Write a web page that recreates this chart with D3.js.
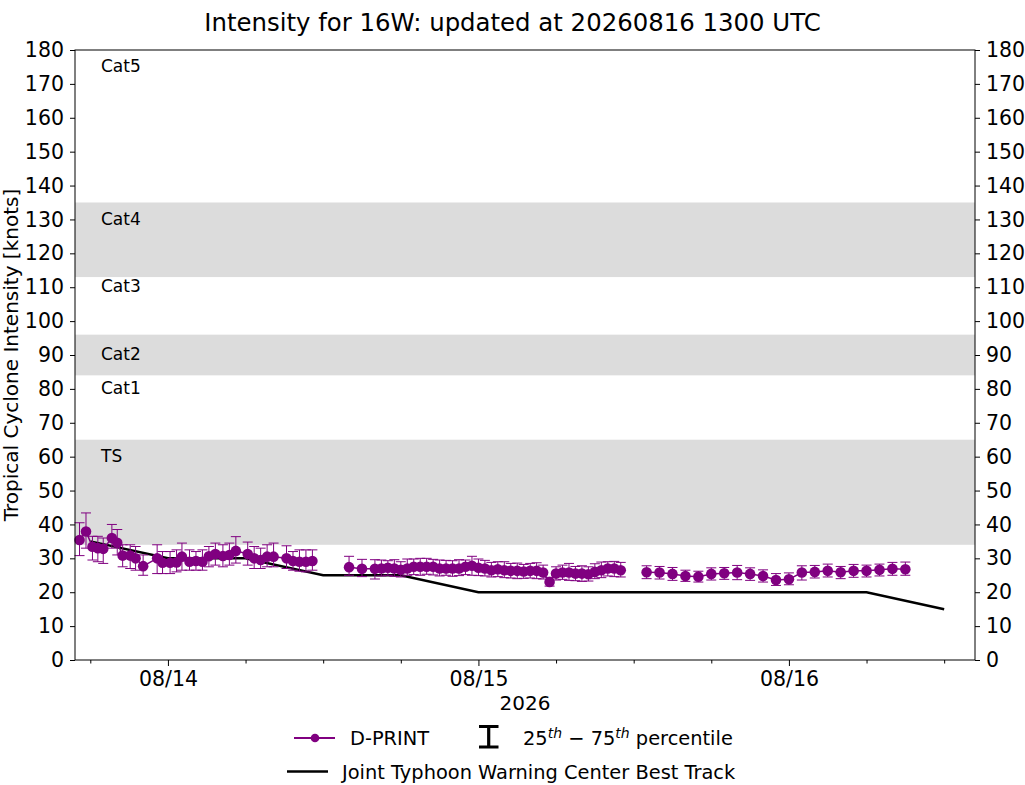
<!DOCTYPE html>
<html>
<head>
<meta charset="utf-8">
<script src="https://cdn.jsdelivr.net/npm/d3@7"></script>
<style>
body { margin: 0; background: #fff; }
text { font-family: "DejaVu Sans", sans-serif; fill: #000; }
</style>
</head>
<body>
<script>
// D-PRINT estimates (median and 25th / 75th percentile), UTC
const dpTime = [
    "2026-08-13 17:10", "2026-08-13 17:40", "2026-08-13 18:10", "2026-08-13 18:35", "2026-08-13 19:00",
    "2026-08-13 19:40", "2026-08-13 20:05", "2026-08-13 20:30", "2026-08-13 21:05", "2026-08-13 21:30",
    "2026-08-13 22:05", "2026-08-13 23:10", "2026-08-13 23:35", "2026-08-14 00:10", "2026-08-14 00:40",
    "2026-08-14 01:05", "2026-08-14 01:40", "2026-08-14 02:10", "2026-08-14 02:40", "2026-08-14 03:10",
    "2026-08-14 03:40", "2026-08-14 04:15", "2026-08-14 04:45", "2026-08-14 05:15", "2026-08-14 06:10",
    "2026-08-14 06:40", "2026-08-14 07:10", "2026-08-14 07:40", "2026-08-14 08:10", "2026-08-14 09:10",
    "2026-08-14 09:40", "2026-08-14 10:10", "2026-08-14 10:40", "2026-08-14 11:10",
    "2026-08-14 14:00", "2026-08-14 15:00", "2026-08-14 16:00", "2026-08-14 16:30", "2026-08-14 17:00",
    "2026-08-14 17:30", "2026-08-14 18:00", "2026-08-14 18:30", "2026-08-14 19:00", "2026-08-14 19:30",
    "2026-08-14 20:00", "2026-08-14 20:30", "2026-08-14 21:00", "2026-08-14 21:30", "2026-08-14 22:00",
    "2026-08-14 22:30", "2026-08-14 23:00", "2026-08-14 23:30", "2026-08-15 00:00", "2026-08-15 00:30",
    "2026-08-15 01:00", "2026-08-15 01:30", "2026-08-15 02:00", "2026-08-15 02:30", "2026-08-15 03:00",
    "2026-08-15 03:30", "2026-08-15 04:00", "2026-08-15 04:30", "2026-08-15 05:00", "2026-08-15 05:30",
    "2026-08-15 06:00", "2026-08-15 06:30", "2026-08-15 07:00", "2026-08-15 07:30", "2026-08-15 08:00",
    "2026-08-15 08:30", "2026-08-15 09:00", "2026-08-15 09:30", "2026-08-15 10:00", "2026-08-15 10:30",
    "2026-08-15 11:00",
    "2026-08-15 13:00", "2026-08-15 14:00", "2026-08-15 15:00", "2026-08-15 16:00", "2026-08-15 17:00",
    "2026-08-15 18:00", "2026-08-15 19:00", "2026-08-15 20:00", "2026-08-15 21:00", "2026-08-15 22:00",
    "2026-08-15 23:00", "2026-08-16 00:00", "2026-08-16 01:00", "2026-08-16 02:00", "2026-08-16 03:00",
    "2026-08-16 04:00", "2026-08-16 05:00", "2026-08-16 06:00", "2026-08-16 07:00", "2026-08-16 08:00",
    "2026-08-16 09:00"
];
const dpMedian = [
    35.4, 37.9, 33.4, 33.0, 32.8, 36.0, 34.6, 30.8, 30.8, 30.0,
    27.7, 30.0, 28.7, 28.7, 28.8, 30.5, 29.0, 29.2, 29.0, 30.6,
    31.3, 30.7, 31.0, 32.2, 31.3, 30.0, 29.5, 30.5, 30.5, 30.0,
    29.2, 29.0, 29.0, 29.2,
    27.4, 26.9, 26.9, 27.0, 27.2, 27.0, 26.6, 27.0, 27.5, 27.5,
    27.5, 27.5, 27.0, 27.0, 27.0, 27.0, 27.5, 27.8, 27.2, 27.0,
    26.5, 26.8, 26.5, 26.3, 26.3, 26.1, 26.3, 26.3, 25.8, 23.0,
    25.5, 25.8, 25.8, 25.5, 25.5, 25.3, 26.0, 26.5, 27.0, 27.0,
    26.5,
    25.9, 25.8, 25.4, 24.8, 24.6, 25.4, 25.6, 25.8, 25.4, 24.8,
    23.6, 23.8, 25.8, 26.0, 26.3, 25.9, 26.3, 26.3, 26.6, 26.9,
    26.8
];
const dpP25 = [
    30.8, 33.0, 29.5, 29.0, 28.5, 33.0, 31.0, 27.5, 27.0, 26.5,
    25.0, 25.5, 25.5, 25.5, 26.0, 26.5, 26.5, 26.5, 26.5, 27.5,
    28.0, 27.5, 28.0, 28.6, 28.0, 27.0, 27.0, 27.5, 27.5, 27.0,
    26.5, 26.2, 26.0, 26.5,
    25.0, 24.6, 23.9, 24.8, 25.0, 24.7, 24.5, 25.0, 25.2, 25.0,
    25.3, 25.1, 24.8, 25.0, 24.7, 24.9, 25.2, 25.0, 24.9, 24.8,
    24.5, 24.6, 24.3, 24.2, 24.0, 24.1, 24.2, 24.0, 23.9, 21.8,
    23.6, 23.8, 23.5, 23.4, 23.2, 23.3, 24.0, 24.3, 24.8, 24.6,
    24.5,
    24.0, 23.9, 23.5, 23.2, 23.0, 23.6, 23.8, 23.7, 23.5, 23.0,
    22.0, 22.2, 23.6, 24.2, 24.5, 24.0, 24.4, 24.5, 24.8, 25.0,
    25.0
];
const dpP75 = [
    40.5, 43.4, 36.5, 36.5, 36.0, 40.0, 38.5, 34.0, 34.0, 33.5,
    31.0, 34.0, 32.0, 32.0, 32.5, 34.5, 32.5, 32.0, 32.5, 33.5,
    34.5, 34.0, 34.5, 36.4, 34.8, 33.5, 33.0, 34.0, 34.5, 33.7,
    32.0, 32.5, 32.5, 32.5,
    30.6, 29.7, 29.6, 29.5, 29.3, 29.6, 29.0, 29.8, 29.8, 30.0,
    30.0, 29.7, 29.5, 29.4, 29.3, 29.6, 29.5, 30.6, 29.8, 29.4,
    28.8, 29.0, 29.0, 28.5, 28.6, 28.2, 28.5, 28.7, 28.0, 24.4,
    27.5, 28.0, 28.5, 27.6, 27.8, 27.5, 28.4, 28.9, 29.0, 29.1,
    28.8,
    27.8, 27.6, 27.3, 26.5, 26.2, 27.2, 27.3, 27.9, 27.2, 26.6,
    25.5, 25.7, 27.8, 27.9, 28.3, 27.6, 28.2, 28.0, 28.3, 28.8,
    28.9
];

// JTWC best track
const btTime = [
    "2026-08-13 18:00", "2026-08-14 00:00", "2026-08-14 06:00", "2026-08-14 12:00",
    "2026-08-14 18:00", "2026-08-15 00:00", "2026-08-15 06:00", "2026-08-15 12:00",
    "2026-08-15 18:00", "2026-08-16 00:00", "2026-08-16 06:00", "2026-08-16 12:00"
];
const btWind = [35, 30, 30, 25, 25, 20, 20, 20, 20, 20, 20, 15];

// intensity category bands and labels
const bandLow = [34, 84, 113];
const bandHigh = [65, 96, 135];
const catNames = ["TS", "Cat1", "Cat2", "Cat3", "Cat4", "Cat5"];
const catLabelAt = [58.5, 78.5, 88.5, 108.5, 128.5, 173.5];

// axes
const yTicks = [0, 10, 20, 30, 40, 50, 60, 70, 80, 90, 100, 110, 120, 130, 140, 150, 160, 170, 180];
const dayTicks = ["2026-08-14 00:00", "2026-08-15 00:00", "2026-08-16 00:00"];
const xLimits = ["2026-08-13 16:49", "2026-08-16 14:23"];

const W = 1025, H = 785;
const plotL = 75, plotR = 975, plotT = 50, plotB = 660;
const purple = "#800080";
const parse = d3.utcParse("%Y-%m-%d %H:%M");

const svg = d3.select("body").append("svg")
    .attr("width", W)
    .attr("height", H);

svg.append("rect").attr("width", W).attr("height", H).attr("fill", "#fff");

const x = d3.scaleUtc()
    .domain(xLimits.map(parse))
    .range([plotL, plotR]);

const y = d3.scaleLinear()
    .domain([0, 180])
    .range([plotB, plotT]);

// shaded bands
svg.selectAll(".band")
    .data(bandLow)
    .enter()
    .append("rect")
    .attr("class", "band")
    .attr("x", plotL)
    .attr("width", plotR - plotL)
    .attr("y", (d, i) => y(bandHigh[i]))
    .attr("height", (d, i) => y(d) - y(bandHigh[i]))
    .attr("fill", "#dcdcdc");

// category labels
svg.selectAll(".cat")
    .data(catNames)
    .enter()
    .append("text")
    .attr("class", "cat")
    .attr("x", plotL + 26)
    .attr("y", (d, i) => y(catLabelAt[i]))
    .style("font-size", "17px")
    .text(d => d);

// best track line
const bt = btTime.map((t, i) => ({ t: parse(t), v: btWind[i] }));
svg.append("path")
    .datum(bt)
    .attr("fill", "none")
    .attr("stroke", "#000")
    .attr("stroke-width", 2.5)
    .attr("d", d3.line().x(d => x(d.t)).y(d => y(d.v)));

// D-PRINT
const dp = dpTime.map((t, i) => ({ t: parse(t), v: dpMedian[i], lo: dpP25[i], hi: dpP75[i] }));

// connect points, break the line at gaps longer than 90 minutes
const dpLine = [];
dp.forEach((d, i) => {
    if (i > 0 && (d.t - dp[i - 1].t) > 90 * 60000) dpLine.push(null);
    dpLine.push(d);
});
svg.append("path")
    .datum(dpLine)
    .attr("fill", "none")
    .attr("stroke", purple)
    .attr("stroke-width", 1.5)
    .attr("d", d3.line().defined(d => d !== null).x(d => x(d.t)).y(d => y(d.v)));

const bars = svg.selectAll(".err")
    .data(dp)
    .enter()
    .append("g")
    .attr("class", "err")
    .attr("stroke", purple)
    .attr("stroke-width", 1);
bars.append("line")
    .attr("x1", d => x(d.t)).attr("x2", d => x(d.t))
    .attr("y1", d => y(d.lo)).attr("y2", d => y(d.hi));
bars.append("line")
    .attr("x1", d => x(d.t) - 5).attr("x2", d => x(d.t) + 5)
    .attr("y1", d => y(d.lo)).attr("y2", d => y(d.lo));
bars.append("line")
    .attr("x1", d => x(d.t) - 5).attr("x2", d => x(d.t) + 5)
    .attr("y1", d => y(d.hi)).attr("y2", d => y(d.hi));

svg.selectAll(".pt")
    .data(dp)
    .enter()
    .append("circle")
    .attr("class", "pt")
    .attr("cx", d => x(d.t))
    .attr("cy", d => y(d.v))
    .attr("r", 5.3)
    .attr("fill", purple);

// frame
svg.append("rect")
    .attr("x", plotL).attr("y", plotT)
    .attr("width", plotR - plotL).attr("height", plotB - plotT)
    .attr("fill", "none")
    .attr("stroke", "#000")
    .attr("stroke-width", 1);

// axes share one look
function styleAxis(g) {
    g.select(".domain").remove();
    g.selectAll("line").attr("stroke", "#000");
    g.selectAll("text").style("font-size", "20.5px").style("font-family", "DejaVu Sans");
}
svg.append("g")
    .attr("transform", `translate(${plotL},0)`)
    .call(d3.axisLeft(y).tickValues(yTicks).tickSize(5).tickPadding(6))
    .call(styleAxis);
svg.append("g")
    .attr("transform", `translate(${plotR},0)`)
    .call(d3.axisRight(y).tickValues(yTicks).tickSize(5).tickPadding(6))
    .call(styleAxis);

// x axis: daily labels, 6-hourly minor ticks
const minorTicks = d3.utcHour.every(6).range(x.domain()[0], x.domain()[1])
    .filter(d => d.getUTCHours() !== 0);
svg.append("g")
    .attr("transform", `translate(0,${plotB})`)
    .call(d3.axisBottom(x).tickValues(minorTicks).tickSize(3.5).tickFormat(""))
    .call(styleAxis);
const xAxis = svg.append("g")
    .attr("transform", `translate(0,${plotB})`)
    .call(d3.axisBottom(x).tickValues(dayTicks.map(parse)).tickSize(6).tickFormat(d3.utcFormat("%m/%d")))
    .call(styleAxis);
xAxis.selectAll("text").attr("y", 25.5).attr("dy", 0);

svg.append("text")
    .attr("x", (plotL + plotR) / 2)
    .attr("y", 710)
    .attr("text-anchor", "middle")
    .style("font-size", "20px")
    .text("2026");

svg.append("text")
    .attr("transform", `translate(18,${(plotT + plotB) / 2}) rotate(-90)`)
    .attr("text-anchor", "middle")
    .style("font-size", "20px")
    .text("Tropical Cyclone Intensity [knots]");

svg.append("text")
    .attr("x", W / 2)
    .attr("y", 31)
    .attr("text-anchor", "middle")
    .style("font-size", "24.4px")
    .text("Intensity for 16W: updated at 20260816 1300 UTC");

// legend
const legend = svg.append("g").attr("class", "legend");
legend.append("line")
    .attr("x1", 294).attr("x2", 335).attr("y1", 738).attr("y2", 738)
    .attr("stroke", purple).attr("stroke-width", 2);
legend.append("circle")
    .attr("cx", 315).attr("cy", 738).attr("r", 4.3).attr("fill", purple);
legend.append("text")
    .attr("x", 350).attr("y", 745)
    .style("font-size", "19.4px")
    .text("D-PRINT");

legend.append("path")
    .attr("d", "M479,726.5H498.5M488.7,726.5V747M479,747H498.5")
    .attr("fill", "none")
    .attr("stroke", "#000")
    .attr("stroke-width", 3.2);
const pct = legend.append("text")
    .attr("x", 523).attr("y", 745)
    .style("font-size", "19.4px");
pct.append("tspan").text("25");
pct.append("tspan").attr("dy", -7.5).style("font-size", "14px").style("font-style", "italic").text("th");
pct.append("tspan").attr("dy", 7.5).text(" \u2212 75");
pct.append("tspan").attr("dy", -7.5).style("font-size", "14px").style("font-style", "italic").text("th");
pct.append("tspan").attr("dy", 7.5).text(" percentile");

legend.append("line")
    .attr("x1", 287).attr("x2", 328).attr("y1", 771.5).attr("y2", 771.5)
    .attr("stroke", "#000").attr("stroke-width", 2.3);
legend.append("text")
    .attr("x", 342).attr("y", 779)
    .style("font-size", "19.4px")
    .text("Joint Typhoon Warning Center Best Track");
</script>
</body>
</html>
